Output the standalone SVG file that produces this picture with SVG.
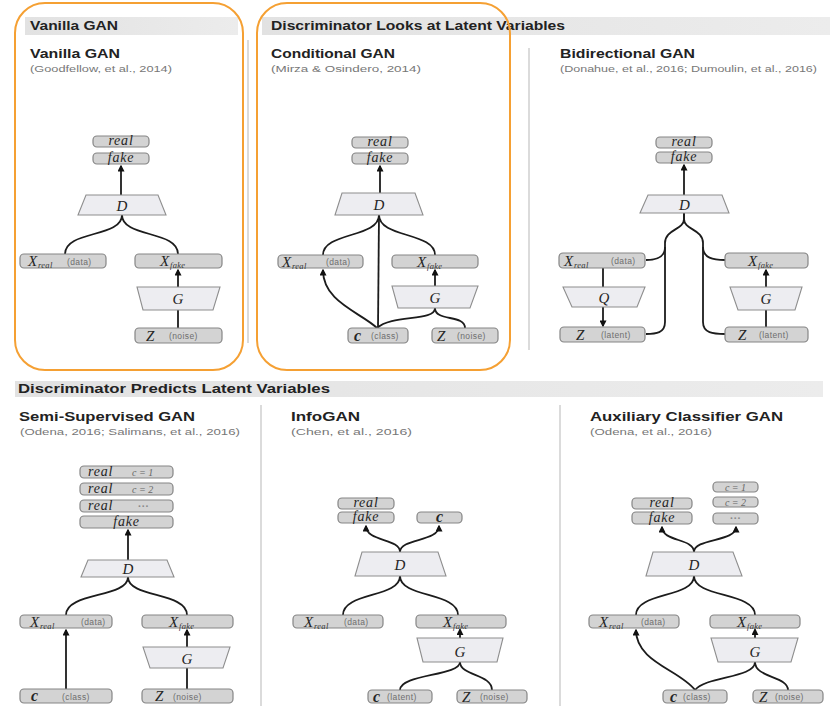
<svg xmlns="http://www.w3.org/2000/svg" width="833" height="706" viewBox="0 0 833 706">
  <defs>
    <marker id="ah" viewBox="0 0 10 10" refX="8" refY="5" markerWidth="7" markerHeight="7" markerUnits="userSpaceOnUse" orient="auto">
      <path d="M0,0 L10,5 L0,10 z" fill="#111"/>
    </marker>
    <linearGradient id="bar" x1="0" x2="1" y1="0" y2="0">
      <stop offset="0" stop-color="#e2e2e2"/>
      <stop offset="1" stop-color="#ececec"/>
    </linearGradient>
  </defs>
  <style>
    .bx { fill:#d3d3d3; stroke:#858585; stroke-width:1.2; }
    .tz { fill:#ededf1; stroke:#8e8e8e; stroke-width:1.1; }
    .ed { fill:none; stroke:#1c1c1c; stroke-width:1.8; }
    .ar { marker-end:url(#ah); }
    .sep { stroke:#cfcfcf; stroke-width:1.5; }
    .hl { fill:none; stroke:#f5a033; stroke-width:2; }
    .mi { font-family:"Liberation Serif",serif; font-style:italic; fill:#252525; font-size:14px; letter-spacing:0.8px; }
    .c { text-anchor:middle; }
    .big { font-size:15px; letter-spacing:0; }
    .bd { font-weight:bold; font-size:16px; }
    .sub { font-family:"Liberation Serif",serif; font-style:italic; fill:#333; font-size:8.5px; letter-spacing:0.3px; }
    .sm { font-family:"Liberation Sans",sans-serif; font-size:8.5px; fill:#6e6e6e; letter-spacing:0.4px; }
    .lt { fill:#666; font-size:10px; letter-spacing:0; }
    .dots { fill:#888; font-size:11px; font-weight:bold; letter-spacing:1px; }
    .hd { font-family:"Liberation Sans",sans-serif; font-weight:bold; font-size:12px; fill:#222; }
    .ti { font-family:"Liberation Sans",sans-serif; font-weight:bold; font-size:13px; fill:#222; }
    .ci { font-family:"Liberation Sans",sans-serif; font-size:8.5px; fill:#777; }
  </style>

  <rect width="833" height="706" fill="#ffffff"/>

  <!-- section bars -->
  <g id="headers">
    <rect x="25" y="17" width="213" height="18" fill="url(#bar)"/>
    <text class="hd" x="30" y="30" textLength="88" lengthAdjust="spacingAndGlyphs">Vanilla GAN</text>
    <rect x="262" y="17" width="568" height="18" fill="url(#bar)"/>
    <text class="hd" x="271" y="30" textLength="294" lengthAdjust="spacingAndGlyphs">Discriminator Looks at Latent Variables</text>
    <rect x="15" y="381" width="808" height="16" fill="url(#bar)"/>
    <text class="hd" x="18" y="393" textLength="312" lengthAdjust="spacingAndGlyphs">Discriminator Predicts Latent Variables</text>
  </g>

  <!-- panel dividers -->
  <g id="dividers">
    <line class="sep" x1="248" y1="40" x2="248" y2="343"/>
    <line class="sep" x1="529" y1="48" x2="529" y2="350"/>
    <line class="sep" x1="261" y1="405" x2="261" y2="706"/>
    <line class="sep" x1="560" y1="405" x2="560" y2="706"/>
  </g>

  <!-- panel titles -->
  <g id="titles">
    <text class="ti" x="30" y="58" textLength="90" lengthAdjust="spacingAndGlyphs">Vanilla GAN</text>
    <text class="ci" x="30" y="72" textLength="142" lengthAdjust="spacingAndGlyphs">(Goodfellow, et al., 2014)</text>
    <text class="ti" x="271" y="58" textLength="124" lengthAdjust="spacingAndGlyphs">Conditional GAN</text>
    <text class="ci" x="271" y="72" textLength="150" lengthAdjust="spacingAndGlyphs">(Mirza &amp; Osindero, 2014)</text>
    <text class="ti" x="560" y="58" textLength="135" lengthAdjust="spacingAndGlyphs">Bidirectional GAN</text>
    <text class="ci" x="560" y="72" textLength="257" lengthAdjust="spacingAndGlyphs">(Donahue, et al., 2016;  Dumoulin, et al., 2016)</text>
    <text class="ti" x="19" y="421" textLength="176" lengthAdjust="spacingAndGlyphs">Semi-Supervised GAN</text>
    <text class="ci" x="20" y="435" textLength="220" lengthAdjust="spacingAndGlyphs">(Odena, 2016;  Salimans, et al., 2016)</text>
    <text class="ti" x="291" y="421" textLength="69" lengthAdjust="spacingAndGlyphs">InfoGAN</text>
    <text class="ci" x="291" y="435" textLength="121" lengthAdjust="spacingAndGlyphs">(Chen, et al., 2016)</text>
    <text class="ti" x="590" y="421" textLength="193" lengthAdjust="spacingAndGlyphs">Auxiliary Classifier GAN</text>
    <text class="ci" x="590" y="435" textLength="122" lengthAdjust="spacingAndGlyphs">(Odena, et al., 2016)</text>
  </g>

  <!-- connectors -->
  <g id="connectors">
    <!-- Vanilla GAN -->
    <path class="ed ar" d="M121,195 L121,166"/>
    <path class="ed" d="M122,215 C122,238 65,230 65,254"/>
    <path class="ed" d="M122,215 C122,238 178,230 178,254"/>
    <path class="ed ar" d="M178,287 L178,270"/>
    <path class="ed" d="M178,328 L178,310"/>
    <!-- Conditional GAN -->
    <path class="ed ar" d="M380,193 L380,166"/>
    <path class="ed" d="M379,215 C379,238 323,232 323,255"/>
    <path class="ed" d="M379,215 C379,238 435,232 435,255"/>
    <path class="ed" d="M379,215 L378,328"/>
    <path class="ed ar" d="M377,328 C360,312 323,302 323,270"/>
    <path class="ed" d="M377,328 C392,314 435,322 435,308"/>
    <path class="ed" d="M465,328 C465,314 435,322 435,308"/>
    <path class="ed ar" d="M435,286 L435,270"/>
    <!-- Bidirectional GAN -->
    <path class="ed ar" d="M684,195 L684,165"/>
    <path class="ed" d="M684,213 L684,219 C684,230 665,229 665,243 L665,322 C665,333 656,334 646,334"/>
    <path class="ed" d="M684,213 L684,219 C684,230 703,229 703,243 L703,322 C703,333 713,334 725,334"/>
    <path class="ed" d="M665,247 C665,258 656,260 646,260"/>
    <path class="ed" d="M703,247 C703,258 713,260 725,260"/>
    <path class="ed" d="M603,268 L603,287"/>
    <path class="ed ar" d="M603,307 L603,326"/>
    <path class="ed ar" d="M766,287 L766,270"/>
    <path class="ed" d="M766,327 L766,310"/>
    <!-- Semi-Supervised GAN -->
    <path class="ed ar" d="M128,560 L128,530"/>
    <path class="ed" d="M128,577 C128,598 66,592 66,615"/>
    <path class="ed" d="M128,577 C128,598 187,592 187,615"/>
    <path class="ed ar" d="M66,689 L66,630"/>
    <path class="ed ar" d="M187,647 L187,630"/>
    <path class="ed" d="M187,689 L187,668"/>
    <!-- InfoGAN -->
    <path class="ed ar" d="M400,552 C400,538 366,542 366,526"/>
    <path class="ed ar" d="M400,552 C400,538 439,542 439,526"/>
    <path class="ed" d="M400,576 C400,598 343,592 343,615"/>
    <path class="ed" d="M400,576 C400,598 458,592 458,615"/>
    <path class="ed ar" d="M460,638 L460,629.5"/>
    <path class="ed" d="M460,662 C460,676 400,674 400,690"/>
    <path class="ed" d="M460,662 C460,676 492,674 492,690"/>
    <!-- Auxiliary Classifier GAN -->
    <path class="ed ar" d="M694,552 C694,538 662,542 662,527"/>
    <path class="ed ar" d="M694,552 C694,538 736,542 736,527"/>
    <path class="ed" d="M694,576 C694,598 636,592 636,615"/>
    <path class="ed" d="M694,576 C694,598 755,592 755,615"/>
    <path class="ed ar" d="M755,638 L755,629.5"/>
    <path class="ed ar" d="M695,690 C680,670 636,662 636,630"/>
    <path class="ed" d="M695,690 C706,676 755,678 755,662"/>
    <path class="ed" d="M788,690 C788,676 755,678 755,662"/>
  </g>

  <!-- ===== Vanilla GAN ===== -->
  <g id="van-real"><rect class="bx" x="93" y="136" width="56" height="11" rx="4"/><text class="mi c" x="121" y="145">real</text></g>
  <g id="van-fake"><rect class="bx" x="93" y="153" width="56" height="11" rx="4"/><text class="mi c" x="121" y="162">fake</text></g>
  <g id="van-D"><polygon class="tz" points="86,195 158,195 166,215 78,215"/><text class="mi big c" x="122" y="210.5">D</text></g>
  <g id="van-xreal"><rect class="bx" x="20" y="254" width="86" height="14" rx="4"/><text class="mi big" x="28" y="266">X</text><text class="sub" x="38" y="268">real</text><text class="sm" x="67" y="264.5">(data)</text></g>
  <g id="van-xfake"><rect class="bx" x="135" y="254" width="87" height="14" rx="4"/><text class="mi big" x="160" y="266">X</text><text class="sub" x="170" y="268">fake</text></g>
  <g id="van-G"><polygon class="tz" points="137,287 220,287 213,310 143,310"/><text class="mi big c" x="178" y="304">G</text></g>
  <g id="van-z"><rect class="bx" x="135" y="328" width="87" height="15" rx="4"/><text class="mi big" x="146" y="340.5">Z</text><text class="sm" x="169" y="339">(noise)</text></g>

  <!-- ===== Conditional GAN ===== -->
  <g id="cond-real"><rect class="bx" x="352" y="137" width="56" height="11" rx="4"/><text class="mi c" x="380" y="146">real</text></g>
  <g id="cond-fake"><rect class="bx" x="352" y="153" width="56" height="11" rx="4"/><text class="mi c" x="380" y="162">fake</text></g>
  <g id="cond-D"><polygon class="tz" points="342,193 415,193 423,215 335,215"/><text class="mi big c" x="379" y="209.5">D</text></g>
  <g id="cond-xreal"><rect class="bx" x="278" y="255" width="85" height="13" rx="4"/><text class="mi big" x="282" y="266.5">X</text><text class="sub" x="292" y="268.5">real</text><text class="sm" x="326" y="265">(data)</text></g>
  <g id="cond-xfake"><rect class="bx" x="392" y="255" width="86" height="13" rx="4"/><text class="mi big" x="417" y="266.5">X</text><text class="sub" x="427" y="268.5">fake</text></g>
  <g id="cond-G"><polygon class="tz" points="392,286 478,286 470,308 398,308"/><text class="mi big c" x="435" y="302.5">G</text></g>
  <g id="cond-c"><rect class="bx" x="348" y="328" width="60" height="15" rx="4"/><text class="mi big bd" x="354" y="340.5">c</text><text class="sm" x="371" y="339">(class)</text></g>
  <g id="cond-z"><rect class="bx" x="432" y="328" width="66" height="15" rx="4"/><text class="mi big" x="437" y="340.5">Z</text><text class="sm" x="457" y="339">(noise)</text></g>

  <!-- ===== Bidirectional GAN ===== -->
  <g id="bi-real"><rect class="bx" x="656" y="137" width="56" height="11" rx="4"/><text class="mi c" x="684" y="146">real</text></g>
  <g id="bi-fake"><rect class="bx" x="656" y="152" width="56" height="11" rx="4"/><text class="mi c" x="684" y="161">fake</text></g>
  <g id="bi-D"><polygon class="tz" points="648,195 722,195 729,213 640,213"/><text class="mi big c" x="684.5" y="209.5">D</text></g>
  <g id="bi-xreal"><rect class="bx" x="559" y="253" width="86" height="15" rx="4"/><text class="mi big" x="564" y="265.5">X</text><text class="sub" x="574" y="267.5">real</text><text class="sm" x="611" y="264">(data)</text></g>
  <g id="bi-Q"><polygon class="tz" points="563,287 645,287 637,307 572,307"/><text class="mi big c" x="604" y="302.5">Q</text></g>
  <g id="bi-zl"><rect class="bx" x="560" y="327" width="85" height="15" rx="4"/><text class="mi big" x="576" y="339.5">Z</text><text class="sm" x="601" y="338">(latent)</text></g>
  <g id="bi-xfake"><rect class="bx" x="725" y="253" width="83" height="15" rx="4"/><text class="mi big" x="748" y="265.5">X</text><text class="sub" x="758" y="267.5">fake</text></g>
  <g id="bi-G"><polygon class="tz" points="730,287 802,287 795,310 738,310"/><text class="mi big c" x="766" y="303.5">G</text></g>
  <g id="bi-zr"><rect class="bx" x="725" y="327" width="83" height="15" rx="4"/><text class="mi big" x="738" y="339.5">Z</text><text class="sm" x="759" y="338">(latent)</text></g>

  <!-- ===== Semi-Supervised GAN ===== -->
  <g id="ss-c1"><rect class="bx" x="80" y="466" width="93" height="12" rx="4"/><text class="mi" x="88" y="475.5">real</text><text class="mi lt" x="132" y="475.5">c = 1</text></g>
  <g id="ss-c2"><rect class="bx" x="80" y="483" width="93" height="12" rx="4"/><text class="mi" x="88" y="492.5">real</text><text class="mi lt" x="132" y="492.5">c = 2</text></g>
  <g id="ss-cn"><rect class="bx" x="80" y="500" width="93" height="12" rx="4"/><text class="mi" x="88" y="509.5">real</text><text class="mi dots" x="138" y="509.5">···</text></g>
  <g id="ss-fake"><rect class="bx" x="80" y="516" width="93" height="12" rx="4"/><text class="mi c" x="126.5" y="525.5">fake</text></g>
  <g id="ss-D"><polygon class="tz" points="88,560 167,560 174,577 81,577"/><text class="mi big c" x="128" y="573.5">D</text></g>
  <g id="ss-xreal"><rect class="bx" x="20" y="615" width="92" height="13" rx="4"/><text class="mi big" x="30" y="626.5">X</text><text class="sub" x="40" y="628.5">real</text><text class="sm" x="81" y="625">(data)</text></g>
  <g id="ss-xfake"><rect class="bx" x="142" y="615" width="91" height="13" rx="4"/><text class="mi big" x="169" y="626.5">X</text><text class="sub" x="179" y="628.5">fake</text></g>
  <g id="ss-G"><polygon class="tz" points="143,647 230,647 223,668 150,668"/><text class="mi big c" x="187" y="663.5">G</text></g>
  <g id="ss-c"><rect class="bx" x="20" y="689" width="92" height="14" rx="4"/><text class="mi big bd" x="31" y="701">c</text><text class="sm" x="62" y="699.5">(class)</text></g>
  <g id="ss-z"><rect class="bx" x="142" y="689" width="91" height="14" rx="4"/><text class="mi big" x="155" y="701">Z</text><text class="sm" x="173" y="699.5">(noise)</text></g>

  <!-- ===== InfoGAN ===== -->
  <g id="info-real"><rect class="bx" x="338" y="498" width="56" height="11" rx="4"/><text class="mi c" x="366" y="507">real</text></g>
  <g id="info-fake"><rect class="bx" x="338" y="512" width="56" height="11" rx="4"/><text class="mi c" x="366" y="521">fake</text></g>
  <g id="info-cout"><rect class="bx" x="417" y="512" width="45" height="11" rx="4"/><text class="mi big bd c" x="439.5" y="522">c</text></g>
  <g id="info-D"><polygon class="tz" points="362,552 438,552 446,576 355,576"/><text class="mi big c" x="400" y="569.5">D</text></g>
  <g id="info-xreal"><rect class="bx" x="293" y="615" width="90" height="13" rx="4"/><text class="mi big" x="304" y="626.5">X</text><text class="sub" x="314" y="628.5">real</text><text class="sm" x="344" y="625">(data)</text></g>
  <g id="info-xfake"><rect class="bx" x="416" y="615" width="90" height="13" rx="4"/><text class="mi big" x="443" y="626.5">X</text><text class="sub" x="453" y="628.5">fake</text></g>
  <g id="info-G"><polygon class="tz" points="417,638 503,638 497,662 423,662"/><text class="mi big c" x="460" y="656.5">G</text></g>
  <g id="info-c"><rect class="bx" x="368" y="690" width="64" height="13" rx="4"/><text class="mi big bd" x="373" y="701.5">c</text><text class="sm" x="387" y="700">(latent)</text></g>
  <g id="info-z"><rect class="bx" x="457" y="690" width="70" height="13" rx="4"/><text class="mi big" x="462" y="701.5">Z</text><text class="sm" x="480" y="700">(noise)</text></g>

  <!-- ===== Auxiliary Classifier GAN ===== -->
  <g id="ac-real"><rect class="bx" x="632" y="498" width="60" height="11" rx="4"/><text class="mi c" x="662" y="507">real</text></g>
  <g id="ac-fake"><rect class="bx" x="632" y="512" width="60" height="12" rx="4"/><text class="mi c" x="662" y="521.5">fake</text></g>
  <g id="ac-c1"><rect class="bx" x="713" y="482" width="45" height="10" rx="4"/><text class="mi lt c" x="735.5" y="490.5">c = 1</text></g>
  <g id="ac-c2"><rect class="bx" x="713" y="497" width="45" height="10" rx="4"/><text class="mi lt c" x="735.5" y="505.5">c = 2</text></g>
  <g id="ac-cn"><rect class="bx" x="713" y="513" width="45" height="11" rx="4"/><text class="mi dots c" x="735.5" y="522">···</text></g>
  <g id="ac-D"><polygon class="tz" points="653,552 733,552 742,576 646,576"/><text class="mi big c" x="694" y="569.5">D</text></g>
  <g id="ac-xreal"><rect class="bx" x="589" y="615" width="90" height="13" rx="4"/><text class="mi big" x="599" y="626.5">X</text><text class="sub" x="609" y="628.5">real</text><text class="sm" x="641" y="625">(data)</text></g>
  <g id="ac-xfake"><rect class="bx" x="710" y="615" width="90" height="13" rx="4"/><text class="mi big" x="737" y="626.5">X</text><text class="sub" x="747" y="628.5">fake</text></g>
  <g id="ac-G"><polygon class="tz" points="711,638 798,638 791,662 718,662"/><text class="mi big c" x="755" y="656.5">G</text></g>
  <g id="ac-c"><rect class="bx" x="663" y="690" width="64" height="13" rx="4"/><text class="mi big bd" x="670" y="701.5">c</text><text class="sm" x="683" y="700">(class)</text></g>
  <g id="ac-z"><rect class="bx" x="753" y="690" width="70" height="13" rx="4"/><text class="mi big" x="759" y="701.5">Z</text><text class="sm" x="775" y="700">(noise)</text></g>

  <!-- orange highlight frames -->
  <g id="highlights">
    <rect class="hl" x="15" y="3" width="228" height="367" rx="30"/>
    <rect class="hl" x="257" y="3" width="253" height="367" rx="30"/>
  </g>
</svg>
